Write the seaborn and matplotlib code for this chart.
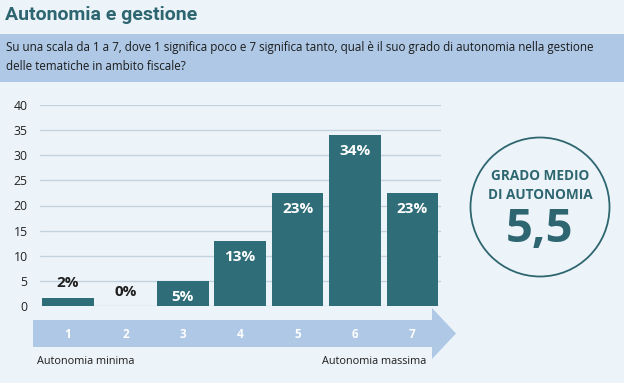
import matplotlib
matplotlib.use("Agg")
import matplotlib.pyplot as plt
from matplotlib.patches import Circle, FancyArrow, Rectangle
from matplotlib.transforms import blended_transform_factory
import pandas as pd
import seaborn as sns

# data
scale = ["1", "2", "3", "4", "5", "6", "7"]
share = [1.6, 0, 5, 13, 22.5, 34, 22.5]
share_labels = ["2%", "0%", "5%", "13%", "23%", "34%", "23%"]
yticks = [0, 5, 10, 15, 20, 25, 30, 35, 40]
mean_score = "5,5"

BG = "#edf4f9"
BAR = "#2f6e78"
DARK = "#2d6670"
BAND = "#aec8e5"

sns.set_theme(style="white")
plt.rcParams["font.family"] = ["Open Sans", "DejaVu Sans"]

W, H = 624, 383
fig = plt.figure(figsize=(W / 100, H / 100), dpi=100, facecolor=BG)


def fx(px):
    return px / W


def fy(py):
    # py measured from the top of the picture
    return 1 - py / H


# title and question band
fig.text(fx(5), fy(15), "Autonomia e gestione", fontsize=14, fontweight="bold",
         color=DARK, va="center", ha="left", family=["Roboto", "DejaVu Sans"])
fig.patches.append(Rectangle((0, fy(82)), 1, fy(34) - fy(82), transform=fig.transFigure,
                             facecolor=BAND, edgecolor="none", zorder=0))
fig.text(fx(6), fy(48), "Su una scala da 1 a 7, dove 1 significa poco e 7 significa tanto, "
         "qual è il suo grado di autonomia nella gestione", fontsize=8.4, color="#1c1c1c",
         va="center")
fig.text(fx(6), fy(66), "delle tematiche in ambito fiscale?", fontsize=8.4,
         color="#1c1c1c", va="center")

# bar chart
ax = fig.add_axes([fx(40), fy(306), fx(441) - fx(40), fy(105) - fy(306)])
ax.set_facecolor(BG)
df = pd.DataFrame({"scale": scale, "share": share})
sns.barplot(data=df, x="scale", y="share", color=BAR, saturation=1, width=0.9,
            linewidth=0, ax=ax, zorder=3)
ax.set_xlim(-0.49, 6.5)
ax.set_ylim(0, 40)
ax.set_yticks(yticks)
ax.yaxis.grid(True, color="#c3d2dd", lw=1)
ax.set_axisbelow(True)
for s in ax.spines.values():
    s.set_visible(False)
ax.tick_params(axis="y", length=0, pad=9, labelsize=8.8, labelcolor="#222222")
ax.set_xticks([])
ax.set_xlabel("")
ax.set_ylabel("")

for i, (v, lab) in enumerate(zip(share, share_labels)):
    if v < 4:
        ax.annotate(lab, (i, v), xytext=(0, 11 if v > 0 else 10), textcoords="offset points",
                    ha="center", va="center", fontsize=11, fontweight="bold",
                    color="#1e1e1e")
    else:
        ax.annotate(lab, (i, v), xytext=(0, -11.5), textcoords="offset points",
                    ha="center", va="center", fontsize=11, fontweight="bold",
                    color="white", zorder=4)

# scale arrow under the bars
arrow = FancyArrow(fx(33), fy(333.5), fx(456) - fx(33), 0, width=fy(320) - fy(347),
                   head_width=fy(309) - fy(360), head_length=fx(456) - fx(432),
                   length_includes_head=True, transform=fig.transFigure,
                   facecolor=BAND, edgecolor="none", clip_on=False, zorder=5)
ax.add_patch(arrow)
arrow_tr = blended_transform_factory(ax.transData, fig.transFigure)
for i, s in enumerate(scale):
    ax.text(i, fy(334), s, transform=arrow_tr, clip_on=False, zorder=6,
            ha="center", va="center", fontsize=8.5, color="white", fontweight="bold")

fig.text(fx(37), fy(361), "Autonomia minima", fontsize=7.8, color="#1c1c1c", va="center")
fig.text(fx(322), fy(361), "Autonomia massima", fontsize=7.8, color="#1c1c1c", va="center")

# mean badge
fig.patches.append(Circle((5.40, (H - 207) / 100), 0.695, transform=fig.dpi_scale_trans,
                          facecolor="none", edgecolor=DARK, lw=1.3))
fig.text(fx(540), fy(176), "GRADO MEDIO", ha="center", va="center", fontsize=9.8,
         fontweight="bold", color=DARK)
fig.text(fx(540), fy(195), "DI AUTONOMIA", ha="center", va="center", fontsize=9.8,
         fontweight="bold", color=DARK)
fig.text(fx(540), fy(229), mean_score, ha="center", va="center", fontsize=34,
         fontweight="bold", color=DARK)

fig.savefig("out.png", dpi=100, facecolor=BG)
